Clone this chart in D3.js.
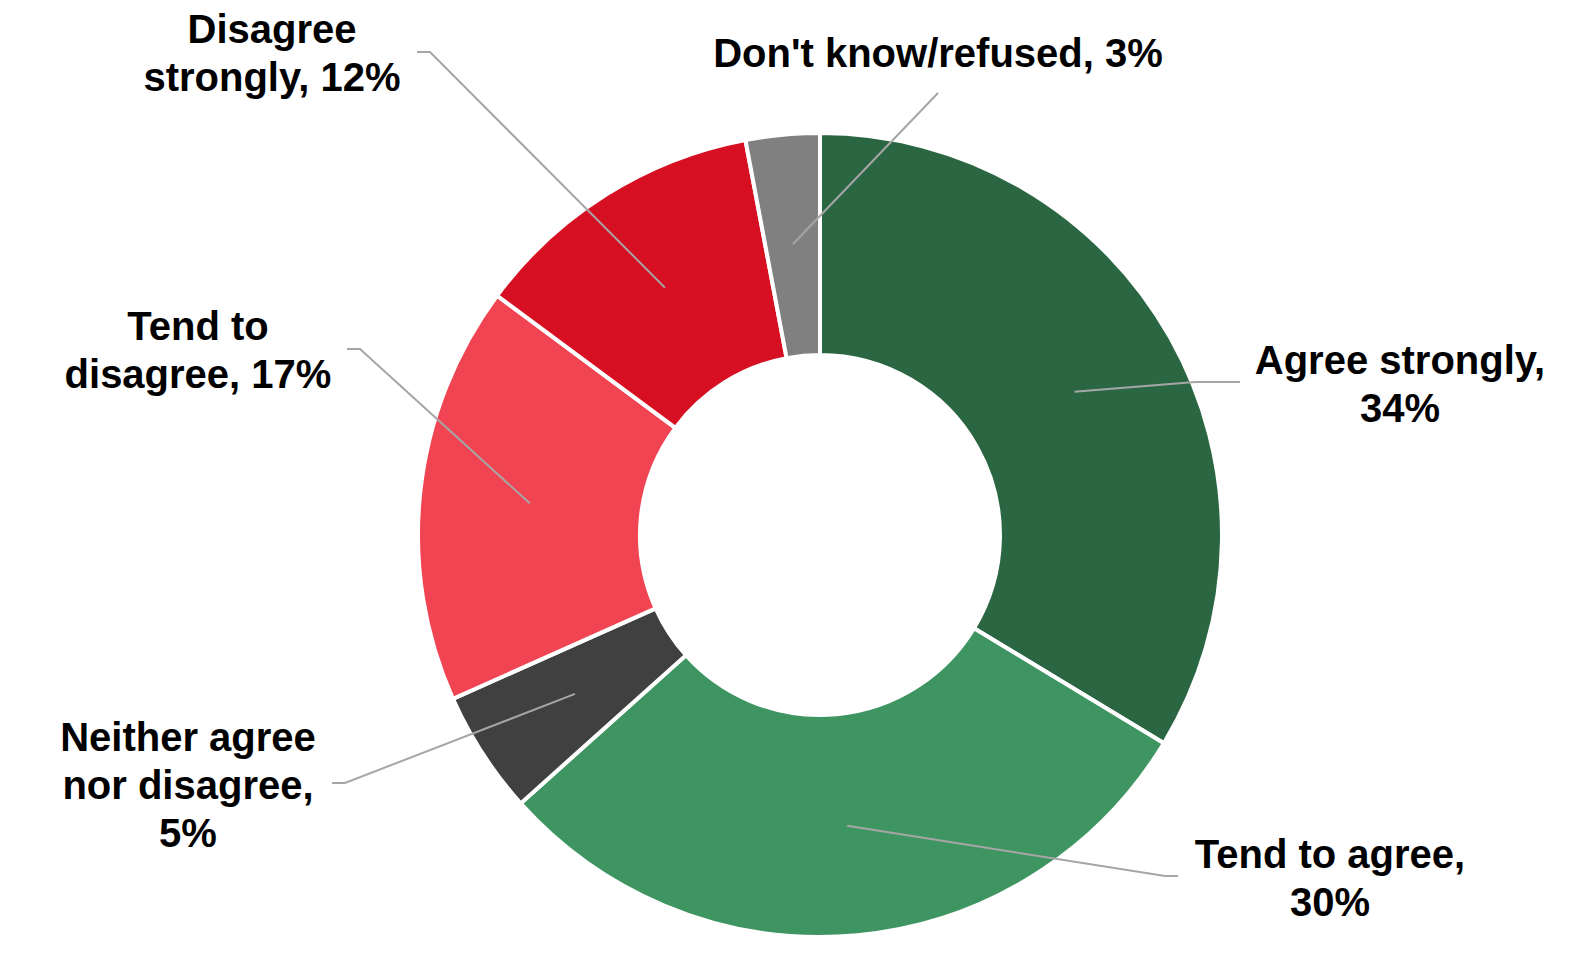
<!DOCTYPE html>
<html><head><meta charset="utf-8">
<script src="https://cdn.jsdelivr.net/npm/d3@7/dist/d3.min.js"></script>
<style>body{margin:0;background:#fff}</style></head>
<body><svg id="c" width="1590" height="964"></svg>
<script>
const categories = ["Agree strongly","Tend to agree","Neither agree nor disagree","Tend to disagree","Disagree strongly","Don't know/refused"];
const values = [34,30,5,17,12,3];
const colors = ["#2a6642","#3f9561","#404040","#f04452","#d61022","#808080"];
const labelLines = [["Agree strongly,","34%"],["Tend to agree,","30%"],["Neither agree","nor disagree,","5%"],["Tend to","disagree, 17%"],["Disagree","strongly, 12%"],["Don't know/refused, 3%"]];
const layout = [
 {elbow:[1195,382],end:[1240,382],tx:1400,ty:374},
 {elbow:[1165,876],end:[1178,876],tx:1330,ty:868},
 {elbow:[345,783],end:[332,783],tx:188,ty:751},
 {elbow:[360,349],end:[347,349],tx:198,ty:340},
 {elbow:[430,52],end:[417,52],tx:272,ty:43},
 {elbow:[938,93],end:[938,93],tx:938,ty:67}
];
const svg = d3.select("#c");
const cx=820, cy=535, R=402, r=180;
const g = svg.append("g").attr("transform",`translate(${cx},${cy})`);
const pie = d3.pie().sort(null).value(d=>d);
const arcs = pie(values);
const arc = d3.arc().innerRadius(r).outerRadius(R);
g.selectAll("path").data(arcs).enter().append("path")
 .attr("d",arc).attr("fill",(d,i)=>colors[i]).attr("stroke","#fff").attr("stroke-width",4);
arcs.forEach((a,i)=>{
  const m=(a.startAngle+a.endAngle)/2;
  const p=[cx+292*Math.sin(m), cy-292*Math.cos(m)];
  const L=layout[i];
  svg.append("polyline").attr("points",[p,L.elbow,L.end].map(q=>q.join(",")).join(" "))
    .attr("fill","none").attr("stroke","#a6a6a6").attr("stroke-width",2);
  const t=svg.append("text").attr("x",L.tx).attr("y",L.ty).attr("text-anchor","middle")
    .attr("font-family","Liberation Sans, Arial, sans-serif").attr("font-weight","bold").attr("font-size",40).attr("fill","#000");
  labelLines[i].forEach((s,k)=>t.append("tspan").attr("x",L.tx).attr("dy",k?48:0).text(s));
});
</script></body></html>
